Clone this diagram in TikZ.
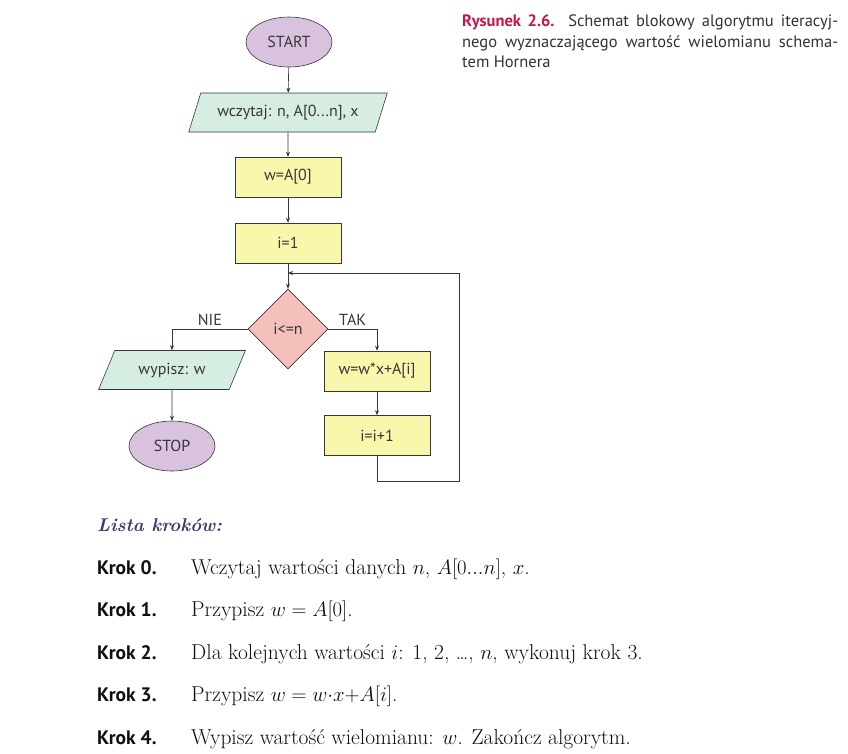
\documentclass[tikz,border=0pt]{standalone}
\usepackage{fontspec}
\newfontfamily\ptsans{PT Sans}
\usetikzlibrary{shapes.geometric,arrows.meta}

\definecolor{termfill}{RGB}{217,194,222}
\definecolor{iofill}{RGB}{214,237,226}
\definecolor{procfill}{RGB}{250,246,172}
\definecolor{decfill}{RGB}{245,192,188}
\definecolor{linecol}{RGB}{55,55,55}
\definecolor{capred}{RGB}{196,22,76}
\definecolor{headblue}{RGB}{58,58,108}
\definecolor{captext}{RGB}{50,50,50}
\definecolor{bodytext}{RGB}{15,15,15}

\begin{document}
\begin{tikzpicture}[x=1pt,y=-1pt,
  chart/.style={font={\ptsans\fontsize{16pt}{18pt}\selectfont}, text=linecol},
  term/.style={chart, ellipse, draw=linecol, line width=0.6pt, fill=termfill,
    minimum width=86pt, minimum height=50pt, inner sep=0pt},
  io/.style={chart, trapezium, trapezium left angle=57, trapezium right angle=123,
    trapezium stretches=true, draw=linecol, line width=0.6pt, fill=iofill,
    minimum height=39pt, inner sep=0pt},
  proc/.style={chart, rectangle, draw=linecol, line width=0.6pt, fill=procfill,
    minimum width=106pt, minimum height=40pt, inner sep=0pt},
  dec/.style={chart, diamond, draw=linecol, line width=0.6pt, fill=decfill,
    minimum width=80pt, minimum height=80pt, inner sep=0pt},
  arr/.style={draw=linecol, line width=0.6pt, -{Stealth[length=5pt,width=4pt]}},
  branch/.style={chart, above, inner sep=3pt},
  kroklabel/.style={anchor=base west, inner sep=0pt, text=bodytext,
    font={\ptsans\bfseries\fontsize{19.5pt}{22pt}\selectfont}},
  steptext/.style={anchor=base west, inner sep=0pt, text=bodytext,
    font={\fontsize{21.5pt}{24pt}\selectfont}}
]
\useasboundingbox[fill=white] (0,0) rectangle (848,753);

% flowchart blocks
\node[term] (start) at (289,42) {START};
\node[io, minimum width=199pt] (read) at (288,112.5) {wczytaj: n, A[0...n], x};
\node[proc] (init) at (288,177) {w=A[0]};
\node[proc] (cnt) at (288,243) {i=1};
\node[dec] (cond) at (288,329) {i<=n};
\node[io, minimum width=147pt] (out) at (172,370) {wypisz: w};
\node[term] (stop) at (172,446) {STOP};
\node[proc] (upd) at (377,371) {w=w*x+A[i]};
\node[proc] (inc) at (377,435.5) {i=i+1};

% loop corners
\coordinate (join) at (288,273);
\coordinate (loopcorner) at (459,481);

% connectors
\draw[arr] (start) -- (read);
\draw[arr] (read) -- (init);
\draw[arr] (init) -- (cnt);
\draw[arr] (cnt) -- (cond);
\draw[arr] (cond.west) -| node[branch, pos=0.25] {NIE} (out.north);
\draw[arr] (cond.east) -| node[branch, pos=0.25] {TAK} (upd.north);
\draw[arr] (out) -- (stop);
\draw[arr] (upd) -- (inc);
\draw[arr] (inc.south) |- (loopcorner) |- (join);

% caption
\node[anchor=north west, inner sep=0pt, text width=376pt, align=justify,
  text=captext, font={\ptsans\fontsize{16.5pt}{20.5pt}\selectfont}] (caption) at (462,15)
  {{\color{capred}\bfseries Rysunek 2.6.} Schemat blokowy algorytmu iteracyj-\linebreak
   nego wyznaczającego wartość wielomianu schema-\linebreak tem Hornera};

% list of steps
\node[anchor=base west, inner sep=0pt, text=headblue,
  font={\bfseries\itshape\fontsize{18.5pt}{22pt}\selectfont}] (head) at (97,531) {Lista kroków:};

\node[kroklabel] (k0) at (97,574) {Krok 0.};
\node[steptext] (s0) at (191,574) {Wczytaj wartości danych $n$, $A[0...n]$, $x$.};
\node[kroklabel] (k1) at (97,616.5) {Krok 1.};
\node[steptext] (s1) at (191,616.5) {Przypisz $w = A[0]$.};
\node[kroklabel] (k2) at (97,659) {Krok 2.};
\node[steptext] (s2) at (191,659) {Dla kolejnych wartości $i$: 1, 2, \ldots, $n$, wykonuj krok 3.};
\node[kroklabel] (k3) at (97,701.5) {Krok 3.};
\node[steptext] (s3) at (191,701.5) {Przypisz $w = w{\cdot}x{+}A[i]$.};
\node[kroklabel] (k4) at (97,744) {Krok 4.};
\node[steptext] (s4) at (191,744) {Wypisz wartość wielomianu: $w$. Zakończ algorytm.};
\end{tikzpicture}
\end{document}
